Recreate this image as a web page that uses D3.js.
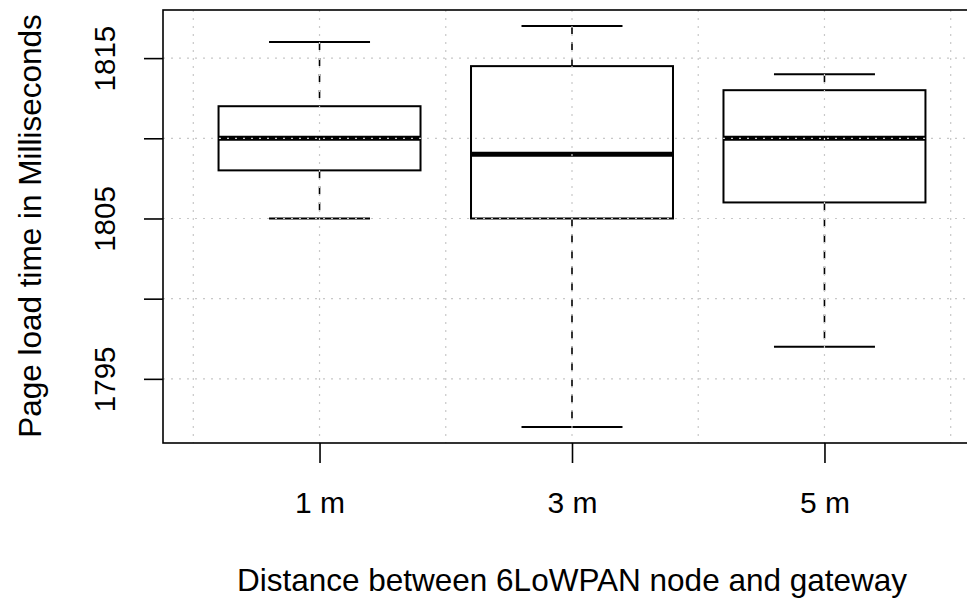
<!DOCTYPE html>
<html>
<head>
<meta charset="utf-8">
<script src="https://cdn.jsdelivr.net/npm/d3@7"></script>
<style>
  body { margin: 0; background: #fff; }
  svg { display: block; font-family: "Liberation Sans", Arial, Helvetica, sans-serif; }
  .grid line { stroke: #c8c8c8; stroke-width: 1.2; stroke-dasharray: 2,6; }
</style>
</head>
<body>
<svg width="967" height="599"></svg>
<script>
// box statistics
var categories = ['1 m', '3 m', '5 m'];
var whiskerLow = [1805, 1792, 1797];
var q1 = [1808, 1805, 1806];
var median = [1810, 1809, 1810];
var q3 = [1812, 1814.5, 1813];
var whiskerHigh = [1816, 1817, 1814];
var yTicks = [1795, 1800, 1805, 1810, 1815];
var yLabels = [1795, 1805, 1815];

let draw = () => {
    var svg = d3.select('svg');

    var xScale = d3.scaleLinear()
        .domain([0.38, 3.62])
        .range([163, 981]);

    var yScale = d3.scaleLinear()
        .domain([1791, 1818])
        .range([443, 10]);

    var data = categories.map(function(c, i) {
        return {name: c, pos: i + 1, lo: whiskerLow[i], q1: q1[i],
                med: median[i], q3: q3[i], hi: whiskerHigh[i]};
    });

    var boxHalf = 0.4, capHalf = 0.2;

    var boxes = svg.append('g')
        .selectAll('g')
        .data(data)
        .enter()
        .append('g');

    // whiskers
    boxes.append('line')
        .attr('x1', d => xScale(d.pos)).attr('x2', d => xScale(d.pos))
        .attr('y1', d => yScale(d.hi)).attr('y2', d => yScale(d.q3))
        .attr('stroke', '#000').attr('stroke-width', 1.6)
        .attr('stroke-dasharray', '8,8');
    boxes.append('line')
        .attr('x1', d => xScale(d.pos)).attr('x2', d => xScale(d.pos))
        .attr('y1', d => yScale(d.q1)).attr('y2', d => yScale(d.lo))
        .attr('stroke', '#000').attr('stroke-width', 1.6)
        .attr('stroke-dasharray', '8,8');

    // caps
    ['lo', 'hi'].forEach(function(k) {
        boxes.append('line')
            .attr('x1', d => xScale(d.pos - capHalf)).attr('x2', d => xScale(d.pos + capHalf))
            .attr('y1', d => yScale(d[k])).attr('y2', d => yScale(d[k]))
            .attr('stroke', '#000').attr('stroke-width', 2);
    });

    // box
    boxes.append('rect')
        .attr('x', d => xScale(d.pos - boxHalf))
        .attr('width', d => xScale(d.pos + boxHalf) - xScale(d.pos - boxHalf))
        .attr('y', d => yScale(d.q3))
        .attr('height', d => yScale(d.q1) - yScale(d.q3))
        .attr('fill', 'none')
        .attr('stroke', '#000').attr('stroke-width', 2);

    // median
    boxes.append('line')
        .attr('x1', d => xScale(d.pos - boxHalf)).attr('x2', d => xScale(d.pos + boxHalf))
        .attr('y1', d => yScale(d.med)).attr('y2', d => yScale(d.med))
        .attr('stroke', '#000').attr('stroke-width', 5);

    // grid drawn on top, like R's grid() after boxplot
    var grid = svg.append('g').attr('class', 'grid');
    grid.selectAll('.gy')
        .data(yTicks)
        .enter()
        .append('line')
        .attr('x1', 163).attr('x2', 981)
        .attr('y1', d => yScale(d)).attr('y2', d => yScale(d));
    grid.selectAll('.gx')
        .data(d3.range(0.5, 3.51, 0.5))
        .enter()
        .append('line')
        .attr('x1', d => xScale(d)).attr('x2', d => xScale(d))
        .attr('y1', 10).attr('y2', 443);

    // frame
    svg.append('rect')
        .attr('x', 163).attr('y', 10)
        .attr('width', 981 - 163).attr('height', 433)
        .attr('fill', 'none')
        .attr('stroke', '#000').attr('stroke-width', 1.6);

    // y axis
    var yAxis = d3.axisLeft(yScale)
        .tickValues(yTicks)
        .tickSize(19)
        .tickFormat(d => yLabels.indexOf(d) >= 0 ? d : '');

    var yg = svg.append('g')
        .attr('transform', 'translate(163,0)')
        .call(yAxis);
    yg.select('.domain').remove();
    yg.selectAll('.tick line').attr('stroke', '#000').attr('stroke-width', 1.6);
    yg.selectAll('.tick text')
        .attr('x', 0).attr('dy', null)
        .attr('transform', 'translate(-48,0) rotate(-90)')
        .attr('text-anchor', 'middle')
        .attr('fill', '#000')
        .style('font-size', '29.5px');

    // x axis
    var xAxis = d3.axisBottom(xScale)
        .tickValues([1, 2, 3])
        .tickSize(20)
        .tickFormat(d => categories[d - 1]);

    var xg = svg.append('g')
        .attr('transform', 'translate(0,443)')
        .call(xAxis);
    xg.select('.domain').remove();
    xg.selectAll('.tick line').attr('stroke', '#000').attr('stroke-width', 1.6);
    xg.selectAll('.tick text')
        .attr('y', 70).attr('dy', null)
        .attr('fill', '#000')
        .style('font-size', '30px');

    // axis titles
    svg.append('text')
        .attr('transform', 'translate(572,591)')
        .attr('text-anchor', 'middle')
        .style('font-size', '31.5px')
        .text('Distance between 6LoWPAN node and gateway');

    svg.append('text')
        .attr('transform', 'translate(40.5,226) rotate(-90)')
        .attr('text-anchor', 'middle')
        .style('font-size', '31.5px')
        .text('Page load time in Milliseconds');
}

draw();
</script>
</body>
</html>
